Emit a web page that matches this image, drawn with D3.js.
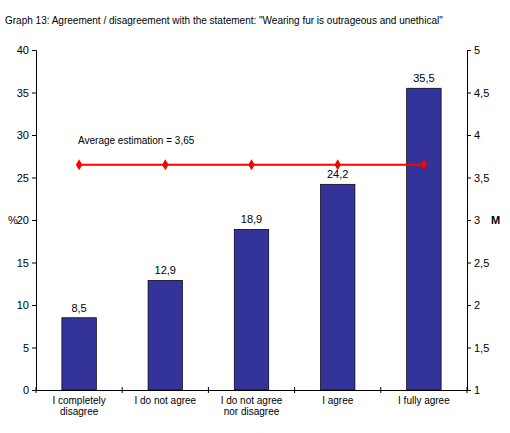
<!DOCTYPE html>
<html><head><meta charset="utf-8">
<script src="https://cdn.jsdelivr.net/npm/d3@7"></script>
<style>body{margin:0;background:#fff;} text{font-family:Arial,"Liberation Sans",sans-serif;}</style>
</head><body>
<svg id="chart" width="510" height="433"></svg>
<script>
var categories = [["I completely","disagree"],["I do not agree"],["I do not agree","nor disagree"],["I agree"],["I fully agree"]];
var values = [8.5, 12.9, 18.9, 24.2, 35.5];
var average = [3.65, 3.65, 3.65, 3.65, 3.65];
var leftTicks = [0,5,10,15,20,25,30,35,40];
var rightTicks = [1,1.5,2,2.5,3,3.5,4,4.5,5];

var svg = d3.select("#chart");
var x0 = 36, x1 = 467, yTop = 50, yBot = 390;
var fmt = function(v){ return String(v).replace(".", ","); };

var x = d3.scaleBand().domain(d3.range(5)).range([x0, x1]).paddingInner(0.6).paddingOuter(0.3);
var y = d3.scaleLinear().domain([0, 40]).range([yBot, yTop]);
var y2 = d3.scaleLinear().domain([1, 5]).range([yBot, yTop]);

svg.append("text").attr("x", 5).attr("y", 24).attr("font-size", 10)
  .text("Graph 13: Agreement / disagreement with the statement: \"Wearing fur is outrageous and unethical\"");

svg.selectAll("rect.bar").data(values).enter().append("rect")
  .attr("x", function(d,i){ return x(i); })
  .attr("y", function(d){ return y(d); })
  .attr("width", x.bandwidth())
  .attr("height", function(d){ return yBot - y(d); })
  .attr("fill", "#333399").attr("stroke", "#000").attr("stroke-width", 0.7);

svg.selectAll("text.val").data(values).enter().append("text")
  .attr("x", function(d,i){ return x(i) + x.bandwidth()/2; })
  .attr("y", function(d){ return y(d) - 6; })
  .attr("text-anchor", "middle").attr("font-size", 11).text(fmt);

var yAxis = svg.append("g").attr("transform", "translate(" + x0 + ",0)")
  .call(d3.axisLeft(y).tickValues(leftTicks).tickSize(4).tickFormat(fmt));
var yAxis2 = svg.append("g").attr("transform", "translate(" + x1 + ",0)")
  .call(d3.axisRight(y2).tickValues(rightTicks).tickSize(4).tickFormat(fmt));
var xAxis = svg.append("g").attr("transform", "translate(0," + yBot + ")")
  .call(d3.axisBottom(x).tickSize(0).tickFormat(""));
[yAxis, yAxis2, xAxis].forEach(function(g){
  g.select(".domain").attr("stroke", "#000");
  g.selectAll("text").attr("font-size", 11).attr("fill", "#000");
});
// category separator ticks
var seps = d3.range(6).map(function(i){ return x0 + i * (x1 - x0) / 5; });
svg.selectAll("line.sep").data(seps).enter().append("line")
  .attr("x1", function(d){ return d; }).attr("x2", function(d){ return d; })
  .attr("y1", yBot - 3).attr("y2", yBot + 3).attr("stroke", "#000");

categories.forEach(function(lines, i){
  var t = svg.append("text").attr("x", x(i) + x.bandwidth()/2).attr("y", yBot + 14)
    .attr("text-anchor", "middle").attr("font-size", 10);
  lines.forEach(function(l, j){
    t.append("tspan").attr("x", x(i) + x.bandwidth()/2).attr("dy", j ? 11 : 0).text(l);
  });
});

svg.append("text").attr("x", 8).attr("y", 224).attr("font-size", 11).text("%");
svg.append("text").attr("x", 491).attr("y", 224).attr("font-size", 11).attr("font-weight", "bold").text("M");

var line = d3.line().x(function(d,i){ return x(i) + x.bandwidth()/2; }).y(function(d){ return y2(d); });
svg.append("path").datum(average).attr("d", line).attr("fill", "none")
  .attr("stroke", "#ff0000").attr("stroke-width", 2);
svg.selectAll("path.pt").data(average).enter().append("path")
  .attr("d", d3.symbol().type(d3.symbolDiamond).size(36))
  .attr("transform", function(d,i){ return "translate(" + (x(i) + x.bandwidth()/2) + "," + y2(d) + ")"; })
  .attr("fill", "#ff0000");
svg.append("text").attr("x", 78).attr("y", 144).attr("font-size", 10).text("Average estimation = 3,65");
</script>
</body></html>
